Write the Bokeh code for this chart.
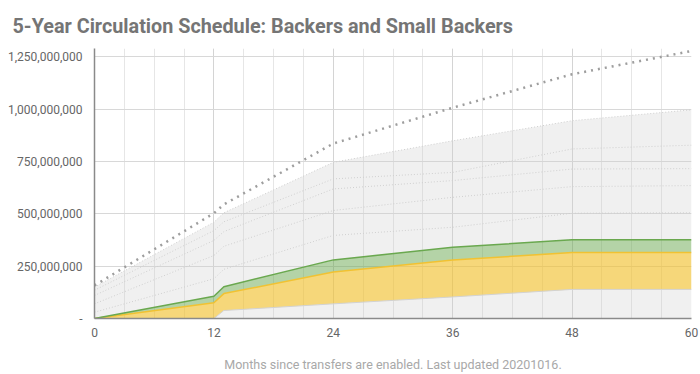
from bokeh.plotting import figure
from bokeh.models import ColumnDataSource, FixedTicker, NumeralTickFormatter
from bokeh.transform import stack
from bokeh.embed import file_html
from bokeh.resources import INLINE

SCALE = 1e6  # values below are in millions

months = [0, 12, 13, 24, 36, 48, 60]
locked_below = [0, 0, 38, 70, 103, 139, 139]
backers = [0, 75, 81, 152, 176, 176, 176]
small_backers = [0, 31, 33, 58, 61, 61, 61]
other_1 = [30, 84, 83, 117, 96, 127, 129]
other_2 = [40, 111, 110, 119, 143, 127, 130]
other_3 = [40, 72, 70, 103, 80, 84, 81]
other_4 = [25, 47, 47, 48, 39, 96, 112]
other_5 = [15, 40, 43, 79, 151, 135, 169]
total_supply = [158, 503, 545, 836, 1007, 1167, 1278]

x_ticks = [0, 12, 24, 36, 48, 60]
y_ticks = [0, 250, 500, 750, 1000, 1250]
footer = "Months since transfers are enabled. Last updated 20201016."

names = ["locked_below", "backers", "small_backers",
         "other_1", "other_2", "other_3", "other_4", "other_5"]
series = [locked_below, backers, small_backers,
          other_1, other_2, other_3, other_4, other_5]

data = {"month": months, "total": [v * SCALE for v in total_supply]}
for n, s in zip(names, series):
    data[n] = [v * SCALE for v in s]
source = ColumnDataSource(data)

p = figure(width=700, height=374, output_backend="svg", toolbar_location=None,
           x_range=(0, 60), y_range=(0, 1.29e9),
           min_border_left=94, min_border_right=9, min_border_top=48, min_border_bottom=56)
p.outline_line_color = None
p.background_fill_color = "white"
p.border_fill_color = "white"

fill_colors = ["#cccccc", "#f1c232", "#6aa84f"] + ["#cccccc"] * 5
fill_alphas = [0.3, 0.65, 0.5] + [0.3] * 5
for i, n in enumerate(names):
    lower = stack(*names[:i]) if i > 0 else 0
    p.varea(x="month", y1=lower, y2=stack(*names[:i + 1]), source=source,
            fill_color=fill_colors[i], fill_alpha=fill_alphas[i])

line_colors = ["#d2d2d2", "#f1c232", "#6aa84f"] + ["#cfcfcf"] * 5
line_widths = [1, 1.5, 1.5] + [1] * 5
line_dashes = ["solid", "solid", "solid"] + ["1 2"] * 5
for i, n in enumerate(names):
    p.line(x="month", y=stack(*names[:i + 1]), source=source,
           line_color=line_colors[i], line_width=line_widths[i], line_dash=line_dashes[i])

p.line(x="month", y="total", source=source, line_color="#9e9e9e",
       line_width=2.5, line_dash="2 5")

# axes
p.xaxis.ticker = FixedTicker(ticks=x_ticks)
p.yaxis.ticker = FixedTicker(ticks=[v * SCALE for v in y_ticks])
p.yaxis.formatter = NumeralTickFormatter(format="0,0")
p.yaxis.major_label_overrides = {0: "-"}
for ax in (p.xaxis, p.yaxis):
    ax.axis_line_color = "#8a8a8a"
    ax.axis_line_width = 1.5
    ax.major_tick_line_color = None
    ax.minor_tick_line_color = None
    ax.major_tick_out = 0
    ax.major_tick_in = 0
    ax.major_label_text_font = "Roboto"
    ax.major_label_text_font_size = "12px"
    ax.major_label_text_color = "#666666"
p.yaxis.major_label_standoff = 12
p.xaxis.major_label_standoff = 9

p.xaxis.axis_label = footer
p.xaxis.axis_label_text_font = "Roboto"
p.xaxis.axis_label_text_font_style = "normal"
p.xaxis.axis_label_text_font_size = "12.5px"
p.xaxis.axis_label_text_color = "#a8a8a8"
p.xaxis.axis_label_text_line_height = 1.0
p.xaxis.axis_label_standoff = 17

# grids
p.xgrid.ticker = FixedTicker(ticks=x_ticks, minor_ticks=list(range(0, 61, 3)))
p.xgrid.grid_line_color = "#d4d4d4"
p.xgrid.minor_grid_line_color = "#e6e6e6"
p.ygrid.ticker = FixedTicker(ticks=[v * SCALE for v in y_ticks])
p.ygrid.grid_line_color = "#d8d8d8"

p.title.text = "5-Year Circulation Schedule: Backers and Small Backers"
p.title.text_font = "Roboto"
p.title.text_font_style = "bold"
p.title.text_font_size = "19.8px"
p.title.text_color = "#757575"
p.title.align = "left"
p.title.offset = -82
p.title.standoff = 22

open("out.html", "w").write(file_html(p, INLINE))
